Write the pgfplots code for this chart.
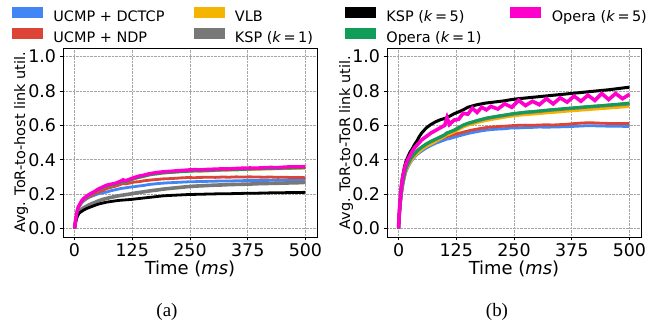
\documentclass[border=0pt]{standalone}
\usepackage{pgfplots}
\pgfplotsset{compat=1.18}
\usepackage{pgfplotstable}
\usepackage{fontspec}
\setmainfont{DejaVu Sans}
\newfontfamily\seriffont{Liberation Serif}
\newcommand\lf{\fontsize{14.5}{17}\selectfont}

\definecolor{cblue}{RGB}{66,133,244}
\definecolor{cred}{RGB}{219,68,55}
\definecolor{cyellow}{RGB}{244,180,0}
\definecolor{cgray}{RGB}{120,120,120}
\definecolor{cgreen}{RGB}{15,157,88}
\definecolor{cmag}{RGB}{255,0,204}

\pgfplotstableread{
x dctcp ndp vlb kspa kspb opa opb
0 0 0 0 0 0 0 0
1 0.02 0.02 0.02 0.02 0.02 0.02 0.02
2 0.04 0.04 0.04 0.035 0.035 0.04 0.045
4 0.07 0.07 0.075 0.06 0.055 0.075 0.08
6 0.095 0.095 0.10 0.075 0.07 0.10 0.105
8 0.11 0.115 0.12 0.088 0.08 0.12 0.125
10 0.125 0.128 0.13 0.097 0.088 0.13 0.135
13 0.14 0.142 0.145 0.105 0.095 0.145 0.15
16 0.15 0.153 0.158 0.112 0.10 0.158 0.163
20 0.16 0.165 0.17 0.12 0.107 0.17 0.175
25 0.17 0.175 0.182 0.128 0.114 0.182 0.186
30 0.178 0.183 0.19 0.135 0.12 0.19 0.195
35 0.185 0.19 0.198 0.141 0.125 0.198 0.203
40 0.19 0.197 0.206 0.147 0.13 0.206 0.21
45 0.195 0.203 0.214 0.152 0.135 0.214 0.218
50 0.2 0.21 0.222 0.158 0.14 0.222 0.227
60 0.207 0.22 0.235 0.168 0.147 0.235 0.24
70 0.212 0.232 0.245 0.175 0.153 0.245 0.252
80 0.22 0.24 0.252 0.181 0.157 0.252 0.258
90 0.226 0.247 0.258 0.187 0.161 0.258 0.264
100 0.232 0.256 0.268 0.192 0.164 0.268 0.275
105 0.234 0.262 0.275 0.194 0.165 0.275 0.283
110 0.236 0.259 0.27 0.196 0.166 0.27 0.277
120 0.24 0.264 0.28 0.2 0.168 0.28 0.287
130 0.243 0.27 0.29 0.205 0.171 0.29 0.297
140 0.247 0.272 0.297 0.209 0.174 0.297 0.305
150 0.25 0.277 0.303 0.213 0.177 0.303 0.31
160 0.255 0.28 0.31 0.217 0.18 0.31 0.317
170 0.258 0.283 0.315 0.221 0.183 0.315 0.322
180 0.261 0.285 0.318 0.224 0.186 0.318 0.326
190 0.263 0.288 0.322 0.228 0.189 0.322 0.329
200 0.265 0.289 0.324 0.231 0.191 0.324 0.331
215 0.267 0.291 0.327 0.235 0.193 0.327 0.334
230 0.269 0.294 0.33 0.239 0.195 0.33 0.337
245 0.271 0.296 0.332 0.243 0.197 0.332 0.34
260 0.272 0.295 0.334 0.246 0.198 0.334 0.342
275 0.273 0.297 0.333 0.248 0.199 0.335 0.341
290 0.274 0.298 0.335 0.25 0.2 0.336 0.344
305 0.275 0.297 0.337 0.252 0.201 0.338 0.345
320 0.276 0.299 0.338 0.253 0.202 0.34 0.347
335 0.276 0.298 0.339 0.255 0.202 0.341 0.346
350 0.277 0.3 0.34 0.256 0.203 0.342 0.349
365 0.278 0.299 0.342 0.257 0.204 0.343 0.351
380 0.278 0.3 0.343 0.258 0.205 0.345 0.352
395 0.279 0.299 0.344 0.26 0.205 0.346 0.351
410 0.279 0.298 0.345 0.261 0.206 0.347 0.354
425 0.28 0.299 0.346 0.262 0.207 0.348 0.355
440 0.28 0.297 0.347 0.263 0.207 0.349 0.354
455 0.281 0.298 0.348 0.264 0.208 0.35 0.357
470 0.281 0.296 0.349 0.265 0.209 0.351 0.359
485 0.281 0.297 0.35 0.266 0.209 0.352 0.358
500 0.282 0.295 0.35 0.268 0.21 0.353 0.36
}\hosttable

\pgfplotstableread{
x dctcp ndp vlb kspa kspb opa opb
0 0 0 0 0 0 0 0
1 0.04 0.05 0.05 0.05 0.06 0.05 0.06
2 0.08 0.09 0.09 0.09 0.11 0.09 0.11
4 0.14 0.15 0.15 0.16 0.19 0.16 0.18
6 0.19 0.2 0.2 0.21 0.25 0.21 0.24
8 0.23 0.24 0.24 0.25 0.29 0.25 0.28
10 0.26 0.27 0.27 0.28 0.32 0.28 0.31
13 0.3 0.31 0.305 0.32 0.36 0.32 0.35
16 0.33 0.34 0.335 0.35 0.39 0.35 0.375
20 0.355 0.365 0.36 0.375 0.415 0.375 0.4
25 0.38 0.39 0.385 0.4 0.445 0.4 0.425
30 0.4 0.41 0.405 0.42 0.465 0.42 0.45
35 0.415 0.425 0.42 0.435 0.49 0.435 0.47
40 0.43 0.44 0.435 0.45 0.51 0.45 0.485
45 0.44 0.452 0.447 0.462 0.535 0.462 0.5
50 0.45 0.462 0.458 0.472 0.555 0.473 0.515
60 0.468 0.48 0.477 0.49 0.585 0.492 0.535
70 0.482 0.494 0.49 0.505 0.605 0.507 0.555
80 0.495 0.507 0.505 0.518 0.62 0.52 0.57
90 0.505 0.52 0.52 0.53 0.632 0.533 0.585
100 0.515 0.53 0.535 0.545 0.64 0.545 0.6
105 0.52 0.535 0.545 0.555 0.645 0.557 0.645
110 0.522 0.538 0.548 0.56 0.652 0.56 0.605
120 0.53 0.546 0.56 0.57 0.667 0.572 0.63
130 0.538 0.553 0.575 0.585 0.678 0.587 0.635
140 0.545 0.56 0.59 0.6 0.69 0.602 0.67
150 0.552 0.567 0.6 0.61 0.705 0.612 0.665
160 0.558 0.573 0.608 0.618 0.713 0.62 0.7
170 0.563 0.578 0.615 0.626 0.72 0.628 0.675
180 0.568 0.583 0.622 0.633 0.725 0.635 0.705
190 0.572 0.587 0.628 0.64 0.73 0.642 0.69
200 0.575 0.59 0.633 0.645 0.733 0.647 0.71
215 0.578 0.593 0.64 0.652 0.738 0.654 0.695
230 0.58 0.595 0.647 0.658 0.743 0.66 0.725
245 0.585 0.598 0.653 0.665 0.75 0.667 0.705
260 0.585 0.6 0.658 0.67 0.755 0.672 0.745
275 0.587 0.601 0.662 0.675 0.759 0.677 0.715
290 0.588 0.6 0.665 0.678 0.763 0.68 0.74
305 0.59 0.602 0.668 0.682 0.767 0.684 0.72
320 0.589 0.603 0.672 0.686 0.771 0.688 0.755
335 0.59 0.602 0.675 0.69 0.775 0.692 0.725
350 0.591 0.604 0.678 0.693 0.779 0.695 0.76
365 0.592 0.606 0.682 0.697 0.783 0.699 0.735
380 0.594 0.61 0.685 0.7 0.787 0.702 0.77
395 0.596 0.613 0.688 0.703 0.791 0.706 0.74
410 0.598 0.615 0.691 0.707 0.795 0.709 0.775
425 0.597 0.614 0.694 0.71 0.799 0.712 0.745
440 0.596 0.612 0.697 0.713 0.803 0.715 0.785
455 0.595 0.611 0.7 0.716 0.807 0.719 0.75
470 0.594 0.611 0.703 0.719 0.812 0.722 0.785
485 0.594 0.61 0.706 0.722 0.817 0.726 0.755
500 0.593 0.61 0.71 0.725 0.822 0.73 0.78
}\tortable

\pgfplotsset{
  myaxis/.style={
    scale only axis, width=254bp, height=189bp,
    xmin=-25, xmax=525, ymin=-0.05, ymax=1.05,
    xtick={0,125,250,375,500}, ytick={0,0.2,0.4,0.6,0.8,1.0},
    tick pos=left, tick align=outside, major tick length=3.5bp,
    tick style={black, line width=0.8bp},
    grid=major, major grid style={densely dotted, black!35, line width=0.6bp},
    axis line style={black, line width=0.9bp},
    /pgf/number format/assume math mode=true,
    ticklabel style={font={\fontsize{17.5}{20}\selectfont}},
    yticklabel style={/pgf/number format/.cd, fixed, fixed zerofill, precision=1},
    xticklabel style={/pgf/number format/.cd, fixed, precision=0},
    ylabel style={font={\fontsize{14.5}{17}\selectfont}},
    xlabel style={font={\fontsize{18}{21}\selectfont}, at={(axis description cs:0.5,0)}, anchor=base, yshift=-38bp},
    xlabel={Time (\textit{ms})},
    legend columns=2, legend cell align=left,
    legend style={draw=none, fill=none,
      anchor=north west, at={(axis description cs:0,1)}, inner sep=0pt, outer sep=0pt,
      nodes={inner sep=0pt, text height=11bp, text depth=3bp},
      /tikz/row sep=4bp, /tikz/column sep=0pt,
      /tikz/every odd column/.style={column sep=0pt},
      /tikz/every even column/.style={column sep=0pt}},
  },
  patchA/.style={legend image code/.code={\fill[#1] (0bp,0.3bp) rectangle (30bp,10.3bp); \path (41bp,0bp);}},
  patchB/.style={legend image code/.code={\path (-29bp,0bp); \fill[#1] (0bp,0.3bp) rectangle (30bp,10.3bp); \path (41bp,0bp);}},
  ser/.style={line width=2.8bp, #1, forget plot},
}

\begin{document}
\begin{tikzpicture}
\path[use as bounding box] (0,0) rectangle (664bp,326bp);
\begin{axis}[myaxis, at={(63bp,89bp)}, anchor=south west,
  ylabel={Avg. ToR-to-host link util.},
  ylabel style={at={(axis description cs:-0.165,0.5)}, anchor=center},
  legend style={xshift=-51bp, yshift=41bp}]
\addplot[ser=cblue] table[x=x, y=dctcp] {\hosttable};
\addplot[ser=cred] table[x=x, y=ndp] {\hosttable};
\addplot[ser=cyellow] table[x=x, y=vlb] {\hosttable};
\addplot[ser=cgray, line width=3.6bp] table[x=x, y=kspa] {\hosttable};
\addplot[ser=black] table[x=x, y=kspb] {\hosttable};
\addplot[ser=cgreen] table[x=x, y=opa] {\hosttable};
\addplot[ser=cmag, line width=3.4bp] table[x=x, y=opb] {\hosttable};
\addlegendimage{patchA=cblue}\addlegendentry{\lf UCMP + DCTCP}
\addlegendimage{patchB=cyellow}\addlegendentry{\lf VLB}
\addlegendimage{patchA=cred}\addlegendentry{\lf UCMP + NDP}
\addlegendimage{patchB=cgray}\addlegendentry{\lf KSP (\textit{k}\,=\,1)}
\end{axis}
\begin{axis}[myaxis, at={(387bp,89bp)}, anchor=south west,
  ylabel={Avg. ToR-to-ToR link util.},
  ylabel style={at={(axis description cs:-0.161,0.5)}, anchor=center},
  legend style={xshift=-42bp, yshift=41bp}]
\addplot[ser=cblue] table[x=x, y=dctcp] {\tortable};
\addplot[ser=cred] table[x=x, y=ndp] {\tortable};
\addplot[ser=cyellow] table[x=x, y=vlb] {\tortable};
\addplot[ser=cgray, line width=3.4bp] table[x=x, y=kspa] {\tortable};
\addplot[ser=black, line width=3bp] table[x=x, y=kspb] {\tortable};
\addplot[ser=cgreen] table[x=x, y=opa] {\tortable};
\addplot[ser=cmag, line width=3.6bp] table[x=x, y=opb] {\tortable};
\addlegendimage{patchA=black}\addlegendentry{\lf KSP (\textit{k}\,=\,5)}
\addlegendimage{patchB=cmag}\addlegendentry{\lf Opera (\textit{k}\,=\,5)}
\addlegendimage{patchA=cgreen}\addlegendentry{\lf Opera (\textit{k}\,=\,1)}
\end{axis}
\node[anchor=base, inner sep=0pt] at (167bp,10bp) {\seriffont\fontsize{19}{22}\selectfont (a)};
\node[anchor=base, inner sep=0pt] at (497bp,10bp) {\seriffont\fontsize{19}{22}\selectfont (b)};
\end{tikzpicture}
\end{document}
